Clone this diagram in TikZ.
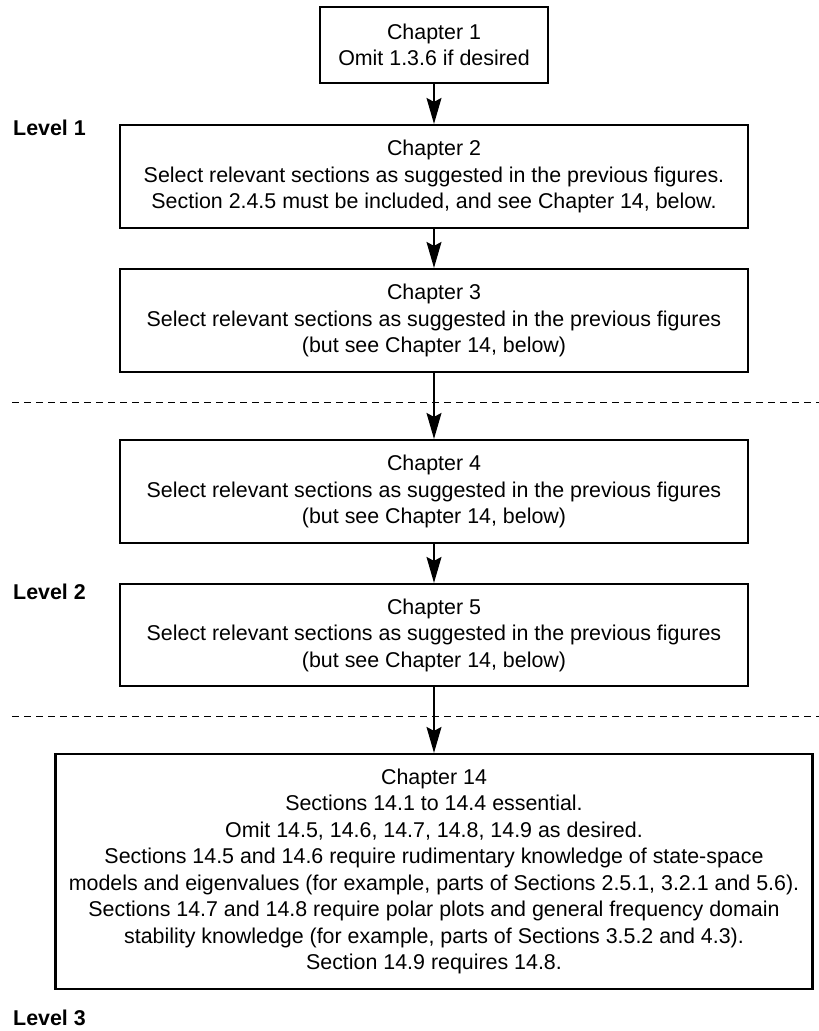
\documentclass[tikz,border=0pt]{standalone}
\usepackage{fontspec}
\setmainfont{Liberation Sans}
\usetikzlibrary{arrows.meta}
\begin{document}
\begin{tikzpicture}[x=1pt,y=-1pt,
  chap/.style={draw, line width=2.2pt, align=center, inner sep=0pt,
    font=\fontsize{21.4}{26.5}\selectfont},
  lvl/.style={anchor=west, inner sep=0pt, font=\fontsize{21.4}{26}\selectfont\bfseries},
  flow/.style={line width=1.3pt, -{Stealth[length=26pt,width=15pt,inset=4pt]}},
  sep/.style={line width=1pt, dash pattern=on 7pt off 5pt}]
\useasboundingbox (0,0) rectangle (819,1031);
\fill[white] (0,0) rectangle (819,1031);

\node[chap, minimum width=228pt, minimum height=76pt] (c1) at (434,45)
  {Chapter 1\\Omit 1.3.6 if desired};
\node[chap, minimum width=628pt, minimum height=103pt] (c2) at (434,176.5)
  {Chapter 2\\Select relevant sections as suggested in the previous figures.\\Section 2.4.5 must be included, and see Chapter 14, below.};
\node[chap, minimum width=628pt, minimum height=103pt] (c3) at (434,320.5)
  {Chapter 3\\Select relevant sections as suggested in the previous figures\\(but see Chapter 14, below)};
\node[chap, minimum width=628pt, minimum height=103pt] (c4) at (434,491.5)
  {Chapter 4\\Select relevant sections as suggested in the previous figures\\(but see Chapter 14, below)};
\node[chap, minimum width=628pt, minimum height=102pt] (c5) at (434,635)
  {Chapter 5\\Select relevant sections as suggested in the previous figures\\(but see Chapter 14, below)};
\node[chap, minimum width=757pt, minimum height=235pt] (c14) at (434,871.5)
  {Chapter 14\\Sections 14.1 to 14.4 essential.\\Omit 14.5, 14.6, 14.7, 14.8, 14.9 as desired.\\Sections 14.5 and 14.6 require rudimentary knowledge of state-space\\models and eigenvalues (for example, parts of Sections 2.5.1, 3.2.1 and 5.6).\\Sections 14.7 and 14.8 require polar plots and general frequency domain\\stability knowledge (for example, parts of Sections 3.5.2 and 4.3).\\Section 14.9 requires 14.8.};

\node[lvl] (l1) at (13,128) {Level 1};
\node[lvl] (l2) at (13,592) {Level 2};
\node[lvl] (l3) at (13,1018) {Level 3};

\coordinate (d1l) at (12,402);
\coordinate (d1r) at (819,402);
\coordinate (d2l) at (12,716);
\coordinate (d2r) at (819,716);
\draw[sep] (d1l) -- (d1r);
\draw[sep] (d2l) -- (d2r);

\draw[flow] (c1.south) -- (c2.north);
\draw[flow] (c2.south) -- (c3.north);
\draw[flow] (c3.south) -- (c4.north);
\draw[flow] (c4.south) -- (c5.north);
\draw[flow] (c5.south) -- (c14.north);
\end{tikzpicture}
\end{document}
